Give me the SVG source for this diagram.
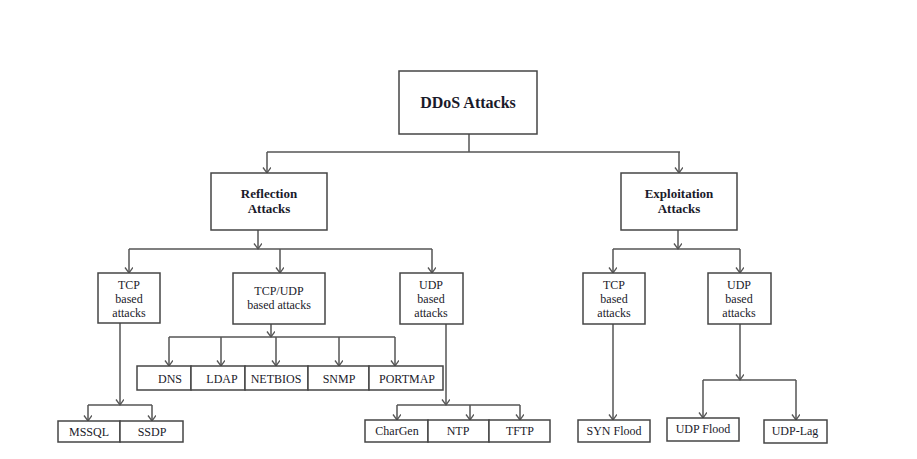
<svg xmlns="http://www.w3.org/2000/svg" width="917" height="459" viewBox="0 0 917 459">
<style>
.b{fill:#fff;stroke:#454545;stroke-width:1.5}
text{font-family:'Liberation Serif','DejaVu Serif',serif;font-size:12px;fill:#1a1a2a;text-anchor:middle}
.h{font-weight:bold;font-size:13px}
.c{fill:none;stroke:#555;stroke-width:1.5}
</style>
<defs>
<marker id="a" markerWidth="10" markerHeight="10" refX="6" refY="4" orient="auto" markerUnits="userSpaceOnUse">
<path d="M0.5,0 L6,4 L0.5,8" fill="none" stroke="#555" stroke-width="1.3"/>
</marker>
</defs>
<rect width="917" height="459" fill="#fff"/>
<g id="connectors" class="c">
<path d="M469,134 V152"/>
<path d="M267,152 H680"/>
<path d="M267,152 V173" marker-end="url(#a)"/>
<path d="M679,152 V173" marker-end="url(#a)"/>
<path d="M258,230 V249" marker-end="url(#a)"/>
<path d="M129,249 H432"/>
<path d="M129,249 V273" marker-end="url(#a)"/>
<path d="M280,249 V273" marker-end="url(#a)"/>
<path d="M432,249 V273" marker-end="url(#a)"/>
<path d="M678,230 V249" marker-end="url(#a)"/>
<path d="M613,249 H740"/>
<path d="M613,249 V273" marker-end="url(#a)"/>
<path d="M740,249 V273" marker-end="url(#a)"/>
<path d="M271,324 V337" marker-end="url(#a)"/>
<path d="M169,337 H395"/>
<path d="M169,337 V366" marker-end="url(#a)"/>
<path d="M221,337 V366" marker-end="url(#a)"/>
<path d="M276,337 V366" marker-end="url(#a)"/>
<path d="M339,337 V366" marker-end="url(#a)"/>
<path d="M395,337 V366" marker-end="url(#a)"/>
<path d="M120,323 V405" marker-end="url(#a)"/>
<path d="M88,405 H152"/>
<path d="M88,405 V421" marker-end="url(#a)"/>
<path d="M152,405 V421" marker-end="url(#a)"/>
<path d="M446,324 V405" marker-end="url(#a)"/>
<path d="M397,405 H520"/>
<path d="M397,405 V420" marker-end="url(#a)"/>
<path d="M470,405 V420" marker-end="url(#a)"/>
<path d="M520,405 V420" marker-end="url(#a)"/>
<path d="M613,324 V420" marker-end="url(#a)"/>
<path d="M740,324 V380" marker-end="url(#a)"/>
<path d="M703,380 H796"/>
<path d="M703,380 V418" marker-end="url(#a)"/>
<path d="M796,380 V420" marker-end="url(#a)"/>
</g>
<g id="ddos"><rect class="b" x="399" y="71" width="138" height="63"/><text x="468" y="108" style="font-weight:bold;font-size:16px">DDoS Attacks</text></g>
<g id="reflection"><rect class="b" x="211" y="173" width="116" height="57"/><text class="h" x="269" y="198">Reflection</text><text class="h" x="269" y="213">Attacks</text></g>
<g id="exploitation"><rect class="b" x="621" y="173" width="116" height="57"/><text class="h" x="679" y="198">Exploitation</text><text class="h" x="679" y="213">Attacks</text></g>
<g id="ref-tcp"><rect class="b" x="98" y="273" width="62" height="50"/><text x="129" y="289">TCP</text><text x="129" y="303">based</text><text x="129" y="317">attacks</text></g>
<g id="ref-tcpudp"><rect class="b" x="233" y="273" width="92" height="51"/><text x="279" y="295">TCP/UDP</text><text x="279" y="309">based attacks</text></g>
<g id="ref-udp"><rect class="b" x="400" y="273" width="63" height="51"/><text x="431" y="289">UDP</text><text x="431" y="303">based</text><text x="431" y="317">attacks</text></g>
<g id="exp-tcp"><rect class="b" x="583" y="273" width="62" height="51"/><text x="614" y="289">TCP</text><text x="614" y="303">based</text><text x="614" y="317">attacks</text></g>
<g id="exp-udp"><rect class="b" x="708" y="273" width="63" height="51"/><text x="739" y="289">UDP</text><text x="739" y="303">based</text><text x="739" y="317">attacks</text></g>
<g id="dns"><rect class="b" x="137" y="366" width="54" height="24"/><text x="170" y="383">DNS</text></g>
<g id="ldap"><rect class="b" x="191" y="366" width="54" height="24"/><text x="222" y="383">LDAP</text></g>
<g id="netbios"><rect class="b" x="245" y="366" width="63" height="24"/><text x="276" y="383">NETBIOS</text></g>
<g id="snmp"><rect class="b" x="308" y="366" width="61" height="24"/><text x="339" y="383">SNMP</text></g>
<g id="portmap"><rect class="b" x="369" y="366" width="74" height="24"/><text x="407" y="383">PORTMAP</text></g>
<g id="mssql"><rect class="b" x="58" y="421" width="62" height="21"/><text x="89" y="436">MSSQL</text></g>
<g id="ssdp"><rect class="b" x="120" y="421" width="63" height="21"/><text x="152" y="436">SSDP</text></g>
<g id="chargen"><rect class="b" x="365" y="420" width="63" height="22"/><text x="397" y="435">CharGen</text></g>
<g id="ntp"><rect class="b" x="428" y="420" width="61" height="22"/><text x="458" y="435">NTP</text></g>
<g id="tftp"><rect class="b" x="489" y="420" width="61" height="22"/><text x="520" y="435">TFTP</text></g>
<g id="synflood"><rect class="b" x="578" y="420" width="72" height="22"/><text x="614" y="435">SYN Flood</text></g>
<g id="udpflood"><rect class="b" x="667" y="418" width="72" height="23"/><text x="703" y="433">UDP Flood</text></g>
<g id="udplag"><rect class="b" x="764" y="420" width="63" height="23"/><text x="795" y="435">UDP-Lag</text></g>
</svg>
